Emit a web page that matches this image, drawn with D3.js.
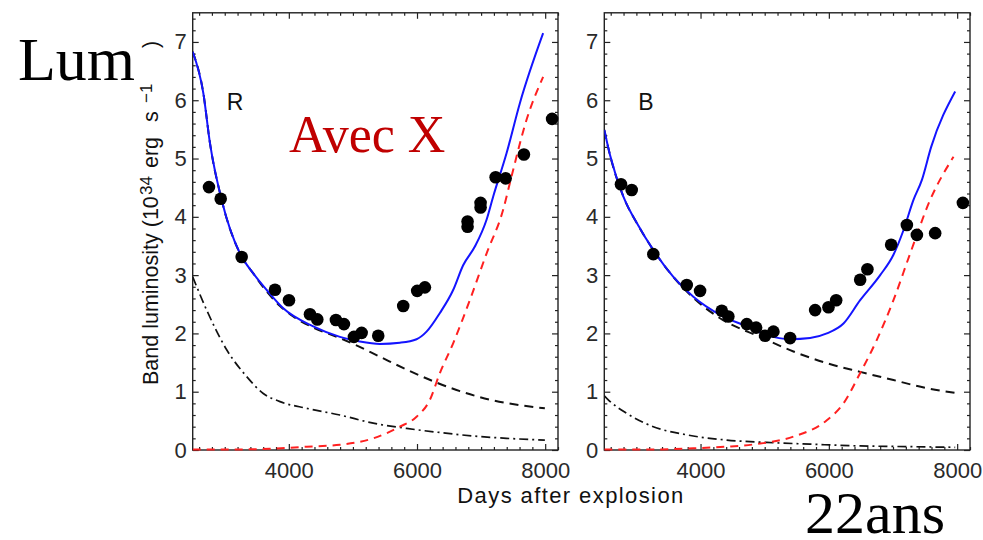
<!DOCTYPE html>
<html>
<head>
<meta charset="utf-8">
<script src="https://cdn.jsdelivr.net/npm/d3@7"></script>
<style>
  html, body { margin: 0; padding: 0; background: #fff; }
  svg { display: block; }
  .tick text { font-family: "Liberation Sans", Arial, sans-serif; font-size: 22px; fill: #2a2a2a; }
  .tick line { stroke: #222; stroke-width: 1.2; }
</style>
</head>
<body>
<svg id="chart" width="983" height="540"></svg>
<script>
// ---- Observed band luminosities (10^34 erg/s) ----
const daysR = [2754, 2937, 3264, 3784, 4002, 4330, 4444, 4735, 4860, 5016, 5136, 5395, 5785, 6003, 6123, 6789, 6789, 6992, 6992, 7227, 7383, 7668, 8108];
const lumR  = [4.51, 4.31, 3.31, 2.75, 2.57, 2.33, 2.24, 2.23, 2.16, 1.94, 2.01, 1.96, 2.47, 2.73, 2.79, 3.92, 3.83, 4.24, 4.16, 4.68, 4.66, 5.07, 5.68];

const daysB = [2760, 2927, 3264, 3785, 3993, 4331, 4434, 4721, 4866, 5006, 5136, 5396, 5786, 5994, 6114, 6488, 6601, 6971, 7216, 7372, 7657, 8089];
const lumB  = [4.56, 4.46, 3.36, 2.83, 2.73, 2.39, 2.29, 2.16, 2.10, 1.96, 2.03, 1.92, 2.40, 2.45, 2.57, 2.92, 3.10, 3.52, 3.86, 3.69, 3.72, 4.24];

// ---- Model curves, R band ----
const totalR_days  = [2500, 2666, 2770, 2952, 3238, 3445, 3654, 3913, 4381, 4797, 5109, 5421, 5733, 5993, 6149, 6357, 6564, 6720, 6903, 7085, 7189, 7397, 7605, 7968];
const totalR_lum   = [6.83, 6.12, 5.26, 4.29, 3.37, 3.03, 2.745, 2.43, 2.12, 1.94, 1.86, 1.82, 1.84, 1.90, 2.03, 2.35, 2.745, 3.17, 3.49, 3.95, 4.35, 5.09, 5.95, 7.15];
const ejectaR_days = [2500, 2666, 2770, 2952, 3238, 3445, 3654, 3862, 4069, 4381, 4797, 5005, 5421, 5837, 6253, 6669, 7189, 7600, 7995];
const ejectaR_lum  = [6.83, 6.12, 5.26, 4.29, 3.37, 3.03, 2.72, 2.47, 2.29, 2.10, 1.92, 1.82, 1.60, 1.38, 1.18, 1.01, 0.85, 0.77, 0.715];
const xrayR_days   = [2500, 3200, 3700, 4278, 4797, 5317, 5733, 5993, 6201, 6357, 6564, 6824, 7085, 7344, 7474, 7708, 7968];
const xrayR_lum    = [0.01, 0.01, 0.02, 0.057, 0.09, 0.20, 0.40, 0.57, 0.86, 1.32, 1.83, 2.57, 3.37, 4.12, 4.69, 5.66, 6.40];
const ringR_days   = [2500, 2718, 3030, 3342, 3601, 3862, 4278, 4797, 5317, 5837, 6357, 6877, 7397, 7995];
const ringR_lum    = [2.97, 2.40, 1.72, 1.26, 0.97, 0.83, 0.715, 0.60, 0.46, 0.37, 0.30, 0.24, 0.20, 0.17];

// ---- Model curves, B band ----
const totalB_days  = [2500, 2589, 2796, 3030, 3264, 3576, 3888, 4304, 4721, 5033, 5396, 5708, 5968, 6228, 6488, 6800, 7007, 7163, 7319, 7449, 7595, 7969];
const totalB_lum   = [5.49, 5.06, 4.35, 3.85, 3.43, 2.97, 2.63, 2.32, 2.12, 1.97, 1.90, 1.92, 2.00, 2.17, 2.57, 3.00, 3.35, 3.77, 4.29, 4.63, 5.20, 6.15];
const ejectaB_days = [2500, 2589, 2796, 3030, 3264, 3576, 3888, 4304, 4928, 5448, 5968, 6488, 7007, 7527, 7969];
const ejectaB_lum  = [5.49, 5.06, 4.35, 3.85, 3.43, 2.97, 2.61, 2.26, 1.94, 1.69, 1.49, 1.34, 1.20, 1.06, 0.98];
const xrayB_days   = [2500, 3300, 3888, 4409, 4928, 5448, 5968, 6228, 6488, 6748, 7007, 7267, 7579, 7943];
const xrayB_lum    = [0.01, 0.01, 0.03, 0.057, 0.11, 0.23, 0.51, 0.80, 1.32, 1.89, 2.57, 3.37, 4.29, 5.03];
const ringB_days   = [2500, 2562, 2849, 3264, 3785, 4409, 5033, 5708, 6488, 7267, 7969];
const ringB_lum    = [0.93, 0.86, 0.63, 0.40, 0.26, 0.17, 0.13, 0.10, 0.07, 0.057, 0.046];

// ---- Axis ticks ----
const xMajor = [4000, 6000, 8000];
const yMajor = [0, 1, 2, 3, 4, 5, 6, 7];
const xMinor = d3.range(2600, 8201, 200).filter(v => v % 2000 !== 0);
const yMinor = d3.range(0, 7.5001, 0.2).map(v => +v.toFixed(1)).filter(v => v % 1 !== 0);

const svg = d3.select("#chart");
const y = d3.scaleLinear().domain([0, 7.5]).range([450, 12.8]);

const zip = (xs, ys) => xs.map((d, i) => [d, ys[i]]);

function panel(id, left, right, curves, dots, bandName, yLabels) {
  const x = d3.scaleLinear().domain([2500, 8200]).range([left, right]);
  const g = svg.append("g").attr("id", id);

  const clipId = id + "-clip";
  g.append("clipPath").attr("id", clipId).append("rect")
    .attr("x", left).attr("y", y(7.5)).attr("width", right - left).attr("height", y(0) - y(7.5) + 3);

  // tick marks point into the frame on all four sides
  const addAxis = (axisFn, scale, values, size, transform, labels, pad) => {
    const a = axisFn(scale).tickValues(values).tickSize(-size).tickPadding(pad || 6)
      .tickFormat(labels ? d3.format("d") : "");
    const ag = g.append("g").attr("transform", transform).call(a);
    ag.select(".domain").remove();
    return ag;
  };
  addAxis(d3.axisLeft, y, yMajor, 6, `translate(${left},0)`, yLabels, 6);
  addAxis(d3.axisLeft, y, yMinor, 3, `translate(${left},0)`, false);
  addAxis(d3.axisRight, y, yMajor, 6, `translate(${right},0)`, false);
  addAxis(d3.axisRight, y, yMinor, 3, `translate(${right},0)`, false);
  addAxis(d3.axisBottom, x, xMajor, 6, `translate(0,${y(0)})`, true, 12);
  addAxis(d3.axisBottom, x, xMinor, 3, `translate(0,${y(0)})`, false);
  addAxis(d3.axisTop, x, xMajor, 6, `translate(0,${y(7.5)})`, false);
  addAxis(d3.axisTop, x, xMinor, 3, `translate(0,${y(7.5)})`, false);

  // frame first, so curves and points sit on top of it
  g.append("rect")
    .attr("x", left).attr("y", y(7.5)).attr("width", right - left).attr("height", y(0) - y(7.5))
    .attr("fill", "none").attr("stroke", "#222").attr("stroke-width", 1.4);

  const line = d3.line().x(d => x(d[0])).y(d => y(d[1])).curve(d3.curveMonotoneX);
  const lines = g.append("g").attr("clip-path", `url(#${clipId})`);

  lines.append("path").datum(curves.ring).attr("d", line)
    .attr("fill", "none").attr("stroke", "#111").attr("stroke-width", 1.7)
    .attr("stroke-dasharray", "9,4,2,4");
  lines.append("path").datum(curves.ejecta).attr("d", line)
    .attr("fill", "none").attr("stroke", "#111").attr("stroke-width", 2)
    .attr("stroke-dasharray", "9,6");
  lines.append("path").datum(curves.xray).attr("d", line)
    .attr("fill", "none").attr("stroke", "#ff2020").attr("stroke-width", 2)
    .attr("stroke-dasharray", "8,6");
  lines.append("path").datum(curves.total).attr("d", line)
    .attr("fill", "none").attr("stroke", "#1414ff").attr("stroke-width", 2);

  g.append("g").selectAll("circle").data(dots).join("circle")
    .attr("cx", d => x(d[0])).attr("cy", d => y(d[1])).attr("r", 6.3)
    .attr("fill", "#000");

  g.append("text").attr("x", x(2500) + 34).attr("y", 110)
    .attr("font-family", "Liberation Sans, Arial, sans-serif").attr("font-size", 23)
    .attr("fill", "#111").text(bandName);
}

panel("panelR", 192.7, 558, {
  total: zip(totalR_days, totalR_lum),
  ejecta: zip(ejectaR_days, ejectaR_lum),
  xray: zip(xrayR_days, xrayR_lum),
  ring: zip(ringR_days, ringR_lum)
}, zip(daysR, lumR), "R", true);

panel("panelB", 604.3, 970, {
  total: zip(totalB_days, totalB_lum),
  ejecta: zip(ejectaB_days, ejectaB_lum),
  xray: zip(xrayB_days, xrayB_lum),
  ring: zip(ringB_days, ringB_lum)
}, zip(daysB, lumB), "B", true);

// ---- Axis titles ----
const sans = "Liberation Sans, Arial, sans-serif";
svg.append("text").attr("x", 571).attr("y", 503).attr("text-anchor", "middle")
  .attr("font-family", sans).attr("font-size", 22).attr("letter-spacing", 1.4)
  .attr("fill", "#111").text("Days after explosion");

// rotated y title, laid out piece by piece along the axis
const yTitle = [
  { t: "Band luminosity (10", at: 385, size: 21.5, shift: 0 },
  { t: "34", at: 195, size: 17, shift: -6 },
  { t: "erg", at: 168, size: 21.5, shift: 0 },
  { t: "s", at: 122, size: 21.5, shift: 0 },
  { t: "\u22121", at: 103, size: 17, shift: -6 },
  { t: ")", at: 48, size: 21.5, shift: 0 }
];
svg.append("g").selectAll("text").data(yTitle).join("text")
  .attr("transform", d => `translate(${158 + d.shift},${d.at}) rotate(-90)`)
  .attr("font-family", sans).attr("font-size", d => d.size)
  .attr("fill", "#111").text(d => d.t);

// ---- Slide annotations ----
const serif = "Liberation Serif, Times New Roman, serif";
svg.append("text").attr("x", 18).attr("y", 80)
  .attr("font-family", serif).attr("font-size", 62).attr("fill", "#000").text("Lum");
svg.append("text").attr("x", 289).attr("y", 152)
  .attr("font-family", serif).attr("font-size", 52).attr("fill", "#c00000").text("Avec X");
svg.append("text").attr("x", 805).attr("y", 533)
  .attr("font-family", serif).attr("font-size", 60).attr("fill", "#000").text("22ans");
</script>
</body>
</html>
